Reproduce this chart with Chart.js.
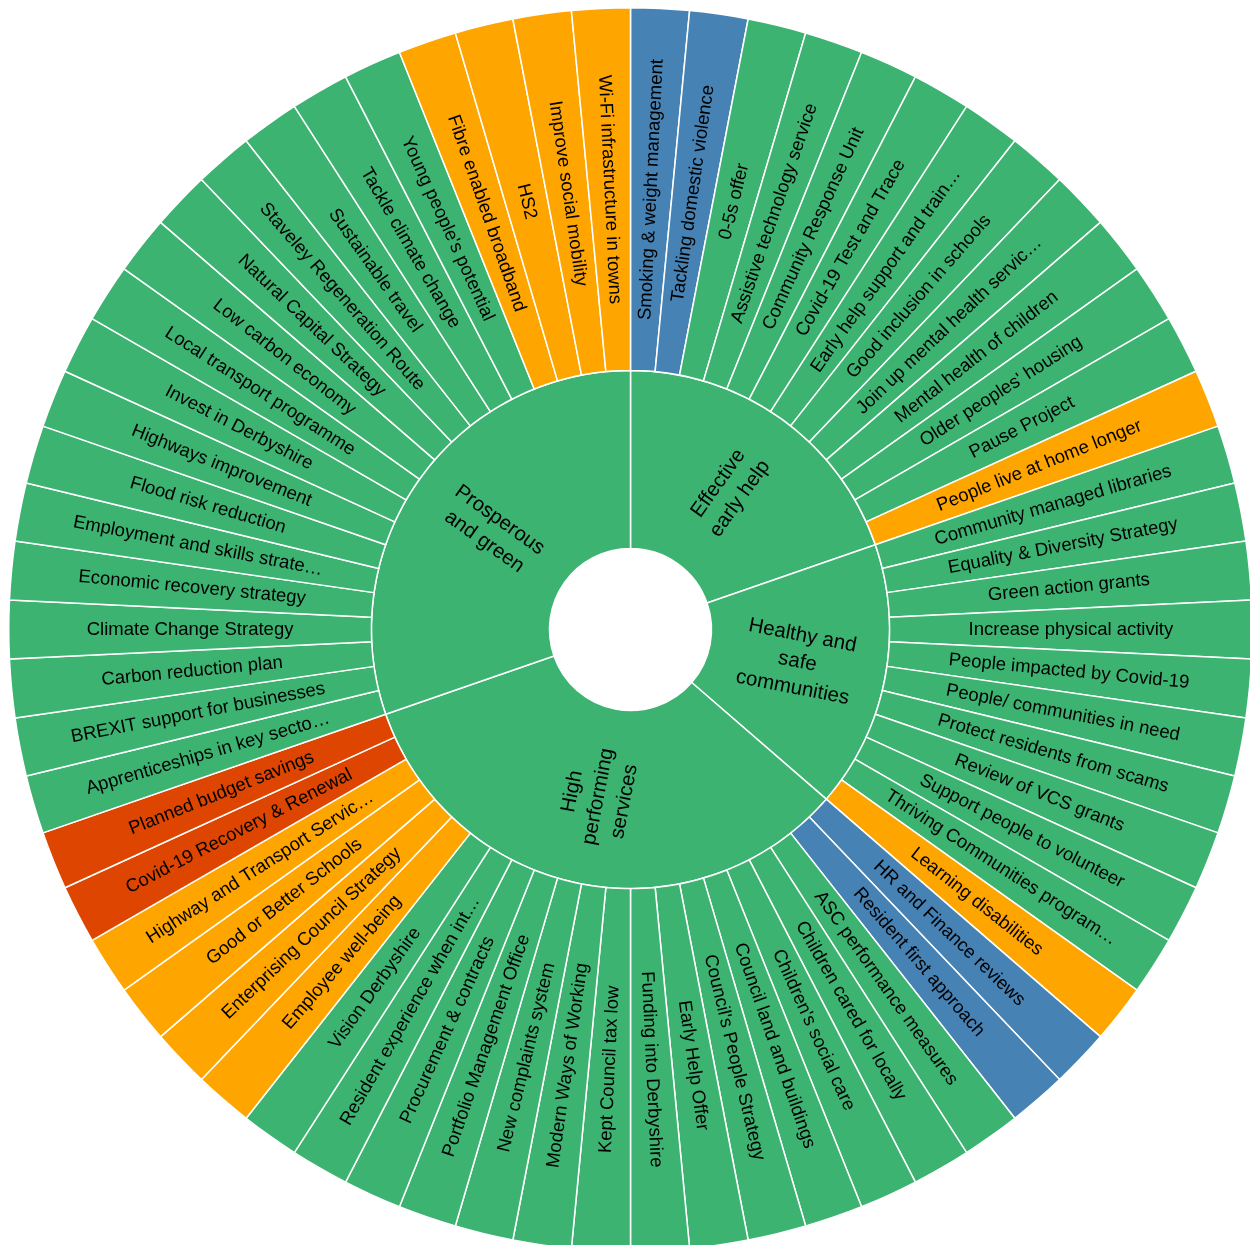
<html><head>
<meta charset="UTF-8">
<title>Council Plan sunburst</title>
<script src="https://cdn.jsdelivr.net/npm/chart.js"></script>
<style>
html, body {
  margin: 0;
  padding: 0;
  background: #ffffff;
  overflow: hidden;
  width: 1250px;
  height: 1245px;
}
#wrap {
  position: absolute;
  left: 8px;
  top: 6.5px;
  width: 1245px;
  height: 1245px;
}
</style>
</head>
<body>
<div id="wrap"><canvas id="sun"></canvas></div>

<script>
// inner ring: priorities
const groupLines = [
  ['Effective', 'early help'],
  ['Healthy and', 'safe', 'communities'],
  ['High', 'performing', 'services'],
  ['Prosperous', 'and green']
];
const groupCounts = [13, 11, 22, 20];

// outer ring: deliverables, clockwise from 12 o'clock
const items = [
  'Smoking & weight management', 'Tackling domestic violence', '0-5s offer',
  'Assistive technology service', 'Community Response Unit', 'Covid-19 Test and Trace',
  'Early help support and train…', 'Good inclusion in schools', 'Join up mental health servic…',
  'Mental health of children', "Older peoples' housing", 'Pause Project',
  'People live at home longer',
  'Community managed libraries', 'Equality & Diversity Strategy', 'Green action grants',
  'Increase physical activity', 'People impacted by Covid-19', 'People/ communities in need',
  'Protect residents from scams', 'Review of VCS grants', 'Support people to volunteer',
  'Thriving Communities program…', 'Learning disabilities',
  'HR and Finance reviews', 'Resident first approach', 'ASC performance measures',
  'Children cared for locally', "Children's social care", 'Council land and buildings',
  "Council's People Strategy", 'Early Help Offer', 'Funding into Derbyshire',
  'Kept Council tax low', 'Modern Ways of Working', 'New complaints system',
  'Portfolio Management Office', 'Procurement & contracts', 'Resident experience when int…',
  'Vision Derbyshire', 'Employee well-being', 'Enterprising Council Strategy',
  'Good or Better Schools', 'Highway and Transport Servic…', 'Covid-19 Recovery & Renewal',
  'Planned budget savings',
  'Apprenticeships in key secto…', 'BREXIT support for businesses', 'Carbon reduction plan',
  'Climate Change Strategy', 'Economic recovery strategy', 'Employment and skills strate…',
  'Flood risk reduction', 'Highways improvement', 'Invest in Derbyshire',
  'Local transport programme', 'Low carbon economy', 'Natural Capital Strategy',
  'Staveley Regeneration Route', 'Sustainable travel', 'Tackle climate change',
  "Young people's potential", 'Fibre enabled broadband', 'HS2',
  'Improve social mobility', 'Wi-Fi infrastructure in towns'
];
const itemValues = [
  1,1,1,1,1,1,1,1,1,1,1,1,1,
  1,1,1,1,1,1,1,1,1,1,1,
  1,1,1,1,1,1,1,1,1,1,1,1,1,1,1,1,1,1,1,1,1,1,
  1,1,1,1,1,1,1,1,1,1,1,1,1,1,1,1,1,1,1,1
];
// b = blue, g = green, o = amber, r = red
const itemStatus = [
  'b','b','g','g','g','g','g','g','g','g','g','g','o',
  'g','g','g','g','g','g','g','g','g','g','o',
  'b','b','g','g','g','g','g','g','g','g','g','g','g','g','g','g','o','o','o','o','r','r',
  'g','g','g','g','g','g','g','g','g','g','g','g','g','g','g','g','o','o','o','o'
];

const statusColors = { g: '#3CB371', o: '#FFA500', b: '#4682B4', r: '#DE4500' };
const FONT = '"Liberation Sans", Arial, Helvetica, sans-serif';

const labelPlugin = {
  id: 'radialLabels',
  afterDatasetsDraw(chart) {
    const ctx = chart.ctx;
    chart.data.datasets.forEach((ds, di) => {
      const meta = chart.getDatasetMeta(di);
      const size = di === 0 ? 18.5 : 20.5;
      const lineH = di === 0 ? 20 : 26.5;
      meta.data.forEach((arc, i) => {
        const p = arc.getProps(['x', 'y', 'startAngle', 'endAngle', 'innerRadius', 'outerRadius'], true);
        const mid = (p.startAngle + p.endAngle) / 2;
        const rm = (p.innerRadius + p.outerRadius) / 2;
        let rot = Math.atan2(Math.sin(mid), Math.cos(mid));
        if (rot > Math.PI / 2) rot -= Math.PI;
        if (rot < -Math.PI / 2) rot += Math.PI;
        const lines = ds.textLines[i];
        ctx.save();
        ctx.translate(p.x + Math.cos(mid) * rm, p.y + Math.sin(mid) * rm);
        ctx.rotate(rot);
        ctx.font = size + 'px ' + FONT;
        ctx.fillStyle = '#000000';
        ctx.textAlign = 'center';
        ctx.textBaseline = 'middle';
        lines.forEach((t, k) => {
          ctx.fillText(t, 0, (k - (lines.length - 1) / 2) * lineH);
        });
        ctx.restore();
      });
    });
  }
};

new Chart(document.getElementById('sun'), {
  type: 'doughnut',
  data: {
    labels: items,
    datasets: [
      {
        data: itemValues,
        backgroundColor: itemStatus.map(s => statusColors[s]),
        borderColor: '#ffffff',
        borderWidth: 1.5,
        weight: 362.5,
        textLines: items.map(t => [t])
      },
      {
        data: groupCounts,
        backgroundColor: groupCounts.map(() => statusColors.g),
        borderColor: '#ffffff',
        borderWidth: 1.5,
        weight: 178,
        textLines: groupLines
      }
    ]
  },
  options: {
    responsive: true,
    maintainAspectRatio: false,
    animation: false,
    cutout: 81,
    layout: { padding: 0 },
    plugins: {
      legend: { display: false },
      tooltip: { enabled: false }
    }
  },
  plugins: [labelPlugin]
});
</script>
</body></html>
